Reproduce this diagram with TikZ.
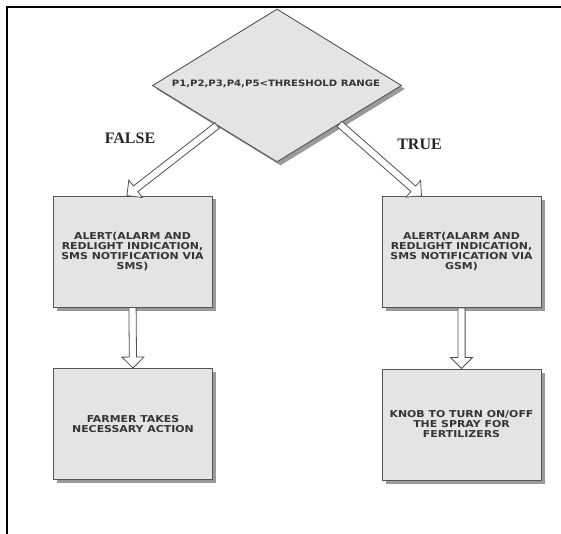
\documentclass[tikz,border=0pt]{standalone}
\usepackage{fontspec}
\setmainfont{Liberation Serif}
\newfontfamily\boxfont{DejaVu Sans}[FakeStretch=1.15]
\usetikzlibrary{shapes.geometric,shadows,calc}

\definecolor{boxfill}{HTML}{E4E4E4}
\definecolor{boxline}{HTML}{555555}
\definecolor{boxtext}{HTML}{353535}
\definecolor{shade}{HTML}{9A9A9A}
\definecolor{arrowline}{HTML}{505050}

\tikzset{
  shadowed/.style={drop shadow={shadow xshift=3.5pt, shadow yshift=-3.5pt,
      fill=shade, opacity=1}},
  stepbox/.style={draw=boxline, fill=boxfill, line width=0.9pt, shadowed,
      minimum width=159pt, minimum height=111pt, inner sep=0pt,
      align=center, text=boxtext,
      font=\boxfont\bfseries\fontsize{9.5}{10}\selectfont},
  decision/.style={diamond, draw=boxline, fill=boxfill, line width=0.9pt,
      shadowed, minimum width=249pt, minimum height=153pt, inner sep=0pt},
  decisiontext/.style={text=boxtext,
      font=\boxfont\bfseries\fontsize{8.8}{10}\selectfont},
  branch/.style={font=\bfseries\fontsize{16}{18}\selectfont, text=black!85},
  hollow/.style={draw=arrowline, fill=white, line width=0.8pt, line join=miter},
  frame/.style={line width=1.8pt, black}
}

% hollow block arrow from #1 to the tip #2
\newcommand{\hollowarrow}[2]{%
  \coordinate (hb) at ($(#2)!11pt!(#1)$);
  \draw[hollow]
    ($(#1)!3.6pt!90:(#2)$) -- ($(hb)!3.6pt!-90:(#1)$) --
    ($(hb)!11pt!-90:(#1)$) -- (#2) -- ($(hb)!11pt!90:(#1)$) --
    ($(hb)!3.6pt!90:(#1)$) -- ($(#1)!3.6pt!-90:(#2)$) -- cycle;
}

\begin{document}
\begin{tikzpicture}[x=1pt, y=-1pt]
  \useasboundingbox (0,0) rectangle (561,534);

  % page frame (top and left rules)
  \draw[frame] (7,534) -- (7,7) -- (561,7);

  % decision
  \node[decision] (cond) at (277,85.5) {};
  \node[decisiontext] (condtext) at (276,84) {P1,P2,P3,P4,P5<THRESHOLD RANGE};

  % branch labels
  \node[branch] (falselbl) at (130,138) {FALSE};
  \node[branch] (truelbl) at (419.5,144) {TRUE};

  % action boxes
  \node[stepbox] (alertL) at (132.5,251.5)
    {ALERT(ALARM AND\\ REDLIGHT INDICATION,\\ SMS NOTIFICATION VIA\\ SMS)};
  \node[stepbox] (alertR) at (461.5,252)
    {ALERT(ALARM AND\\ REDLIGHT INDICATION,\\ SMS NOTIFICATION VIA\\ GSM)};
  \node[stepbox] (farmer) at (133,424)
    {FARMER TAKES\\ NECESSARY ACTION};
  \node[stepbox] (knob) at (461.5,424.5)
    {KNOB TO TURN ON/OFF\\ THE SPRAY FOR\\ FERTILIZERS};

  % connector end points
  \coordinate (fStart) at ($(cond.west)!0.52!(cond.south)$);
  \coordinate (fEnd) at ($(alertL.north west)!0.465!(alertL.north east)$);
  \coordinate (tStart) at ($(cond.east)!0.5!(cond.south)$);
  \coordinate (tEnd) at ($(alertR.north west)!0.25!(alertR.north east)$);

  \hollowarrow{fStart}{fEnd}
  \hollowarrow{tStart}{tEnd}
  \hollowarrow{alertL.south}{farmer.north}
  \hollowarrow{alertR.south}{knob.north}
\end{tikzpicture}
\end{document}
